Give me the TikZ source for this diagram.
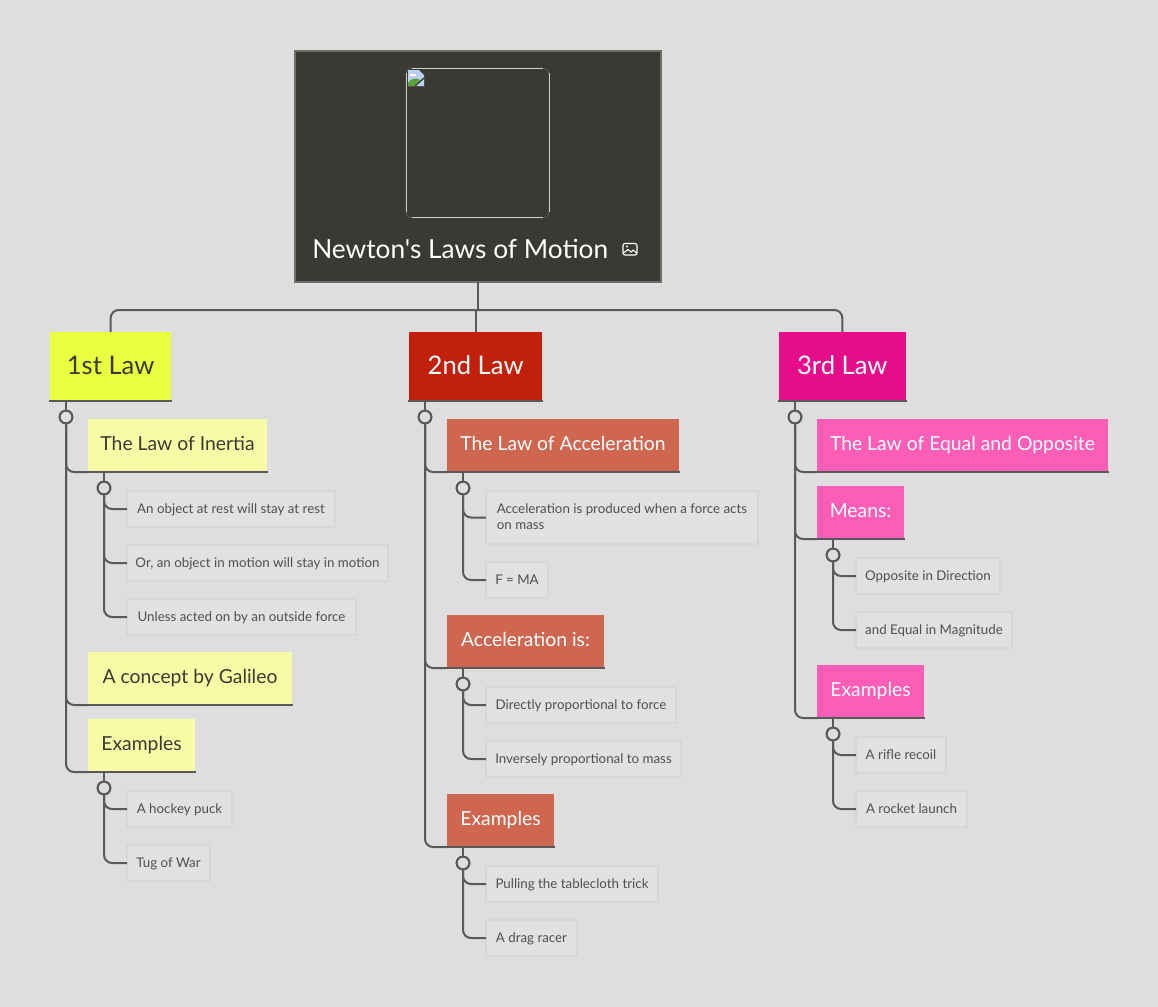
\documentclass[tikz,border=0pt]{standalone}
\usepackage{fontspec}
\setmainfont{Lato}
\newfontfamily\titlefont{Lato}
\usetikzlibrary{positioning,calc}
\definecolor{backcol}{HTML}{DEDEDE}
\definecolor{rootcol}{HTML}{3A3A35}
\definecolor{rootline}{HTML}{6E6E69}
\definecolor{linecol}{HTML}{595959}
\definecolor{inkcol}{HTML}{3A3A35}
\definecolor{leafcol}{HTML}{E1E1E1}
\definecolor{leafline}{HTML}{D7D7D7}
\definecolor{leafink}{HTML}{4F4F4B}
\definecolor{yellowA}{HTML}{E9FF3F}
\definecolor{yellowB}{HTML}{F8FBA5}
\definecolor{redA}{HTML}{C1200A}
\definecolor{redB}{HTML}{CE6650}
\definecolor{pinkA}{HTML}{E60D8B}
\definecolor{pinkB}{HTML}{FC5DB7}
\definecolor{pageblue}{HTML}{BCD0F5}
\definecolor{pagegreen}{HTML}{5DA33B}
\tikzset{
  box/.style={rectangle,anchor=north west,inner sep=0pt,outer sep=0pt,align=center},
  rootbox/.style={box,fill=rootcol,draw=rootline,line width=1.5pt,text=white},
  lawbox/.style={box,minimum height=51pt,text height=13pt,text depth=0pt,font=\fontsize{19.2}{23}\selectfont},
  topicbox/.style={box,minimum height=39pt,text height=7.5pt,text depth=0pt,font=\fontsize{14.5}{18}\selectfont},
  leafbox/.style={box,minimum height=27pt,text height=6.6pt,text depth=0pt,fill=leafcol,draw=leafline,line width=1.5pt,text=leafink,font=\fontsize{10}{12}\selectfont},
  branch/.style={draw=linecol,line width=1.5pt,rounded corners=6pt},
  underline/.style={draw=linecol,line width=1.5pt},
  knob/.style={circle,draw=linecol,line width=1.5pt,fill=backcol,inner sep=0pt,minimum size=9.5pt},
}
\begin{document}
\begin{tikzpicture}[x=0.75pt,y=-0.75pt]
  \fill[backcol] (0,0) rectangle (1158,1007);

  % root
  \node (root) [rootbox,minimum width=274.5pt,minimum height=173.25pt] at (295,51) {};
  \node (title) [anchor=base west,inner sep=0pt,text=white,font=\titlefont\fontsize{19.7}{24}\selectfont] at (312,258) {Newton's Laws of Motion};
  \node (frame) [box,draw=white!30!rootcol,line width=0.3pt,rounded corners=5pt,minimum width=107.25pt,minimum height=112.5pt] at (406,68) {};
  \draw[white!75!rootcol,line width=0.6pt] (412,68) -- (543,68) (412,217.5) -- (543,217.5) (406,73) -- (406,212) (549,73) -- (549,212);
  % broken image
  \fill[pageblue] (408,70) -- (419,70) -- (424,75) -- (424,86) -- (408,86) -- cycle;
  \fill[white] (410,74) rectangle (416,76);
  \fill[pagegreen] (408,86) -- (408,83) .. controls (411,78) and (416,77) .. (420,80) -- (414,86) -- cycle;
  \draw[rootcol,line width=1pt] (415,86) -- (424,78);
  % image mark
  \draw[white,line width=0.8pt,rounded corners=1.5pt] (623,243.5) rectangle (637,255);
  \draw[white,line width=0.8pt] (623.5,253) -- (628,249.5) -- (631,252) -- (633,250) -- (636.5,253);
  \fill[white] (627,246.5) circle (1.2);

  % laws
  \node (lawA) [lawbox,fill=yellowA,text=inkcol,minimum width=91pt] at (50,332) {1st Law};
  \node (lawB) [lawbox,fill=redA,text=white,minimum width=100pt] at (409,332) {2nd Law};
  \node (lawC) [lawbox,fill=pinkA,text=white,minimum width=95pt] at (779,332) {3rd Law};
  \coordinate (hub) at (478,310);
  \draw[branch] (root.south -| hub) -- (hub);
  \draw[branch] (lawA.north) |- (lawC.north |- hub) -- (lawC.north);
  \draw[branch] (lawB.north |- hub) -- (lawB.north);
  \foreach \law in {lawA,lawB,lawC}
    \draw[underline] ($(\law.south west)+(-1,1)$) -- ($(\law.south east)+(1,1)$);

  % 1st law
  \node (kA) [knob] at (66,417) {};
  \node (inertia) [topicbox,fill=yellowB,text=inkcol,minimum width=134.25pt] at (88,419) {The Law of Inertia};
  \node (galileo) [topicbox,fill=yellowB,text=inkcol,minimum width=153pt] at (88,652) {A concept by Galileo};
  \node (examA) [topicbox,fill=yellowB,text=inkcol,minimum width=80.25pt] at (88,719) {Examples};
  \node (kA1) [knob] at (104,488) {};
  \node (kA2) [knob] at (104,788) {};
  \node (rest) [leafbox,minimum width=156pt] at (127,491) {An object at rest will stay at rest};
  \node (motion) [leafbox,minimum width=195.75pt] at (127,545) {Or, an object in motion will stay in motion};
  \node (force) [leafbox,minimum width=171.75pt] at (127,599) {Unless acted on by an outside force};
  \node (puck) [leafbox,minimum width=78.75pt] at (127,791) {A hockey puck};
  \node (war) [leafbox,minimum width=62.25pt] at (127,845) {Tug of War};

  % 2nd law
  \node (kB) [knob] at (425,417) {};
  \node (accel) [topicbox,fill=redB,text=white,minimum width=174pt] at (447,419) {The Law of Acceleration};
  \node (accis) [topicbox,fill=redB,text=white,minimum width=117.75pt] at (447,615) {Acceleration is:};
  \node (examB) [topicbox,fill=redB,text=white,minimum width=80.25pt] at (447,794) {Examples};
  \node (kB1) [knob] at (463,488) {};
  \node (kB2) [knob] at (463,684) {};
  \node (kB3) [knob] at (463,863) {};
  \node (mass) [leafbox,align=left,text height=18.6pt,minimum width=204pt,minimum height=39.75pt] at (486,491) {Acceleration is produced when a force acts\\on mass};
  \node (fma) [leafbox,minimum width=46.5pt] at (486,562) {F = MA};
  \node (direct) [leafbox,minimum width=142.5pt] at (486,687) {Directly proportional to force};
  \node (inverse) [leafbox,minimum width=146.25pt] at (486,741) {Inversely proportional to mass};
  \node (cloth) [leafbox,minimum width=129pt] at (486,866) {Pulling the tablecloth trick};
  \node (drag) [leafbox,minimum width=68.25pt] at (486,920) {A drag racer};

  % 3rd law
  \node (kC) [knob] at (795,417) {};
  \node (equal) [topicbox,fill=pinkB,text=white,minimum width=218.25pt] at (817,419) {The Law of Equal and Opposite};
  \node (means) [topicbox,fill=pinkB,text=white,minimum width=65.25pt] at (817,486) {Means:};
  \node (examC) [topicbox,fill=pinkB,text=white,minimum width=80.25pt] at (817,665) {Examples};
  \node (kC1) [knob] at (833,555) {};
  \node (kC2) [knob] at (833,734) {};
  \node (direction) [leafbox,minimum width=108pt] at (856,558) {Opposite in Direction};
  \node (magnitude) [leafbox,minimum width=117pt] at (856,612) {and Equal in Magnitude};
  \node (rifle) [leafbox,minimum width=67.5pt] at (856,737) {A rifle recoil};
  \node (rocket) [leafbox,minimum width=83.25pt] at (856,791) {A rocket launch};

  % connectors
  \foreach \knob/\up in {kA/lawA,kB/lawB,kC/lawC,kA1/inertia,kA2/examA,kB1/accel,kB2/accis,kB3/examB,kC1/means,kC2/examC}
    \draw[branch] (\knob) -- (\knob |- \up.south);
  \foreach \knob/\kid in {kA/inertia,kA/galileo,kA/examA,kB/accel,kB/accis,kB/examB,kC/equal,kC/means,kC/examC}
    {\draw[branch] (\knob) |- ($(\kid.south west)+(0,1)$);
     \draw[underline] ($(\kid.south west)+(0,1)$) -- ($(\kid.south east)+(1,1)$);}
  \foreach \knob/\kid in {kA1/rest,kA1/motion,kA1/force,kA2/puck,kA2/war,kB1/mass,kB1/fma,kB2/direct,kB2/inverse,kB3/cloth,kB3/drag,kC1/direction,kC1/magnitude,kC2/rifle,kC2/rocket}
    \draw[branch] (\knob) |- (\kid.west);
  % knobs again, on top of their lines
  \foreach \knob in {kA,kB,kC,kA1,kA2,kB1,kB2,kB3,kC1,kC2}
    \node [knob] at (\knob) {};
\end{tikzpicture}
\end{document}
